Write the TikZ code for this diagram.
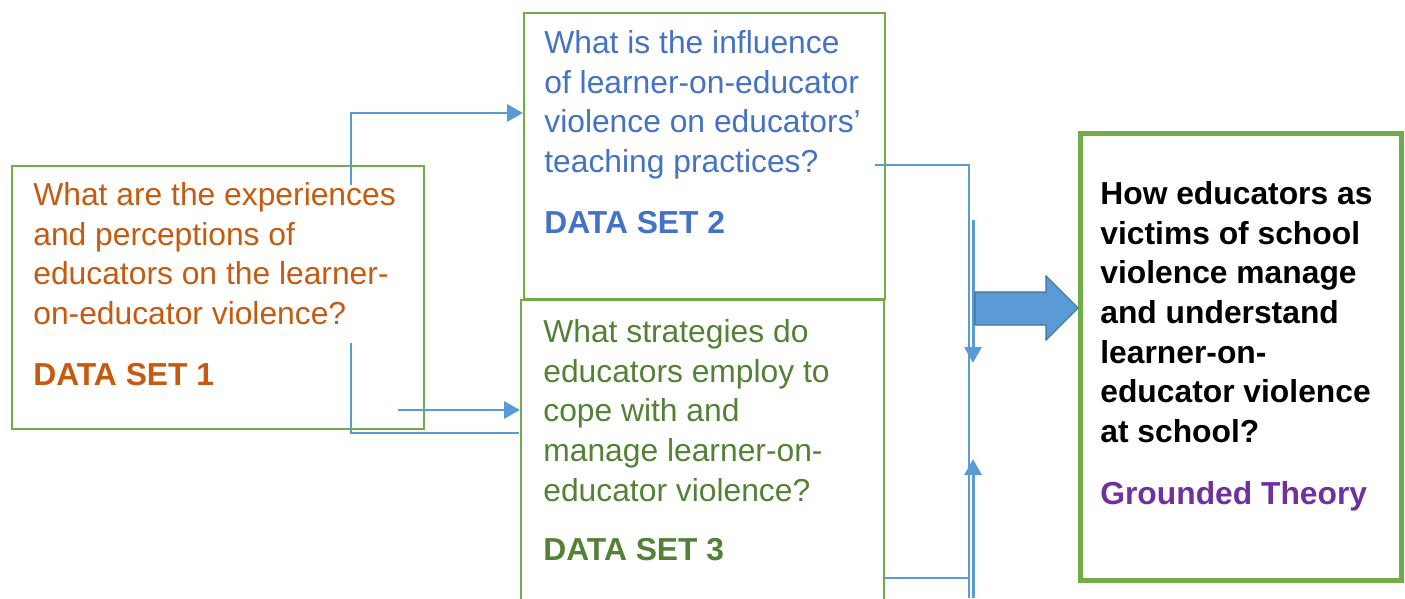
\documentclass[tikz,border=0pt]{standalone}
\usepackage{fontspec}
\setmainfont{Liberation Sans}
\usetikzlibrary{arrows.meta}
\usepackage{xcolor}
\definecolor{myorange}{HTML}{C55A11}
\definecolor{myblue}{HTML}{4472C4}
\definecolor{mygreen}{HTML}{538135}
\definecolor{mypurple}{HTML}{7030A0}
\definecolor{boxgreen}{HTML}{70AD47}
\definecolor{linkblue}{HTML}{5B9BD5}
\definecolor{edgeblue}{HTML}{41719C}

\begin{document}
\begin{tikzpicture}[x=0.02cm,y=-0.02cm,
    box/.style={draw=boxgreen,line width=1.2pt,anchor=north west,inner sep=0pt},
    question/.style={anchor=north west,align=left,inner sep=0pt,
      font=\fontsize{18.1}{22.6}\selectfont},
    dataset/.style={anchor=north west,inner sep=0pt,
      font=\fontsize{18.1}{22.6}\selectfont\bfseries},
    thinlink/.style={draw=linkblue,line width=0.6pt},
    thicklink/.style={draw=linkblue,line width=1.7pt,
      -{Triangle[length=0.32cm,width=0.34cm]}}]

      \clip (0,0) rectangle (1405,598);

      % boxes
      \node[box,minimum width=8.24cm,minimum height=5.26cm] (set1) at (11,165) {};
      \node[box,minimum width=7.22cm,minimum height=5.72cm] (set2) at (523,12) {};
      \node[box,minimum width=7.26cm,minimum height=6.6cm] (set3) at (520,299) {};
      \node[box,line width=2.8pt,minimum width=6.42cm,minimum height=8.94cm] (theory) at (1078,131) {};

      % DATA SET 1
      \node[question,text=myorange] (q1) at (33,182)
      {What are the experiences\\and perceptions of\\educators on the learner-\\on-educator violence?};
      \node[dataset,text=myorange] (d1) at (33,363) {DATA SET 1};

      % DATA SET 2
      \node[question,text=myblue] (q2) at (544,30)
      {What is the influence\\of learner-on-educator\\violence on educators’\\teaching practices?};
      \node[dataset,text=myblue] (d2) at (544,211) {DATA SET 2};

      % DATA SET 3
      \node[question,text=mygreen] (q3) at (543,319)
      {What strategies do\\educators employ to\\cope with and\\manage learner-on-\\educator violence?};
      \node[dataset,text=mygreen] (d3) at (543,538) {DATA SET 3};

      % grounded theory
      \node[question,font=\fontsize{18.1}{22.6}\selectfont\bfseries] (q4) at (1100,181)
      {How educators as\\victims of school\\violence manage\\and understand\\learner-on-\\educator violence\\at school?};
      \node[dataset,text=mypurple] (d4) at (1100,481) {Grounded Theory};

      % links from set 1
      \coordinate (up1) at (351,185);
      \coordinate (up2) at (403,113);
      \draw[thinlink] (up1) |- (up2);
      \draw[thicklink] (up2) -- (up2 -| set2.west);

      \coordinate (low1) at (351,343);
      \coordinate (low2) at (519,433);
      \draw[thinlink] (low1) |- (low2);
      \coordinate (low3) at (398,410);
      \draw[thicklink] (low3) -- (low3 -| set3.west);

      % links to theory
      \coordinate (r1) at (875,165);
      \coordinate (r2) at (969,598);
      \draw[thinlink] (r1) -| (r2);
      \coordinate (r3) at (883,578);
      \coordinate (r4) at (969,420);
      \draw[thinlink] (r3) -| (r4);

      \coordinate (dn1) at (973,220);
      \coordinate (dn2) at (973,363);
      \draw[thicklink] (dn1) -- (dn2);
      \coordinate (un1) at (973,598);
      \coordinate (un2) at (973,459);
      \draw[thicklink] (un1) -- (un2);

      % big arrow
      \draw[fill=linkblue,draw=edgeblue,line width=0.6pt]
      (975,292) -- (1046,292) -- (1046,276) -- (theory.west |- 0,308)
      -- (1046,340) -- (1046,325) -- (975,325) -- cycle;

\end{tikzpicture}
\end{document}
